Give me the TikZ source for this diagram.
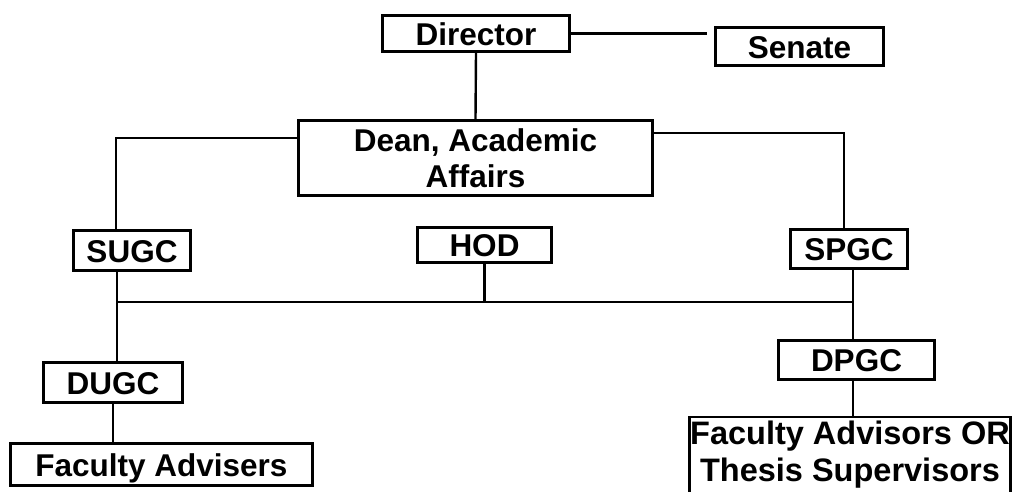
\documentclass[tikz,border=0pt]{standalone}
\usepackage{fontspec}
\setmainfont{Liberation Sans}
\tikzset{
  unit/.style={draw, line width=2.6pt, inner sep=0pt, align=center,
    font=\fontsize{31.5}{36}\selectfont\bfseries},
  oneline/.style={unit, text height=23pt, text depth=0pt},
  link/.style={line width=2.4pt},
}
\begin{document}
\begin{tikzpicture}[x=1pt,y=-1pt]
  \useasboundingbox (0,0) rectangle (1013,491);
  % top
  \node[oneline, minimum width=187pt, minimum height=36pt] (dir) at (476,33.5) {Director};
  \node[oneline, minimum width=168pt, minimum height=38pt] (sen) at (799.5,46.5) {Senate};
  \node[unit, minimum width=354pt, minimum height=75pt] (dean) at (475.5,158) {Dean, Academic\\Affairs};
  % committees
  \node[oneline, minimum width=117pt, minimum height=40pt] (sugc) at (132,250.5) {SUGC};
  \node[oneline, minimum width=134pt, minimum height=35pt] (hod) at (484.5,245) {HOD};
  \node[oneline, minimum width=117pt, minimum height=39pt] (spgc) at (849,249) {SPGC};
  \node[oneline, minimum width=139pt, minimum height=40pt] (dugc) at (113,382.5) {DUGC};
  \node[oneline, minimum width=156pt, minimum height=39pt] (dpgc) at (856.5,360) {DPGC};
  % advisers
  \node[oneline, minimum width=302pt, minimum height=42pt] (fadv) at (161.5,464.5) {Faculty Advisers};
  \node[unit, minimum width=321pt, minimum height=76pt,
    font=\fontsize{32.5}{37}\selectfont\bfseries] (thes) at (850,455) {Faculty Advisors OR\\Thesis Supervisors};
  \coordinate (busl) at (117,302);
  \coordinate (busr) at (853,302);
  \begin{scope}[link]
    \draw (dir.south) to (dean.north);
    \draw (dir.east) to ([xshift=-7pt]sen.west |- dir.east);
    \draw ([yshift=20pt]dean.west) -| ([xshift=-16pt]sugc.north);
    \draw ([yshift=25pt]dean.east) -| ([xshift=-5pt]spgc.north);
    \draw (busl) to (busr);
    \draw (hod.south) to (hod.south |- busl);
    \draw (busl |- sugc.south) to (busl |- dugc.north);
    \draw (busr |- spgc.south) to (busr |- dpgc.north);
    \draw (dugc.south) to (dugc.south |- fadv.north);
    \draw (busr |- dpgc.south) to (busr |- thes.north);
  \end{scope}
\end{tikzpicture}
\end{document}
